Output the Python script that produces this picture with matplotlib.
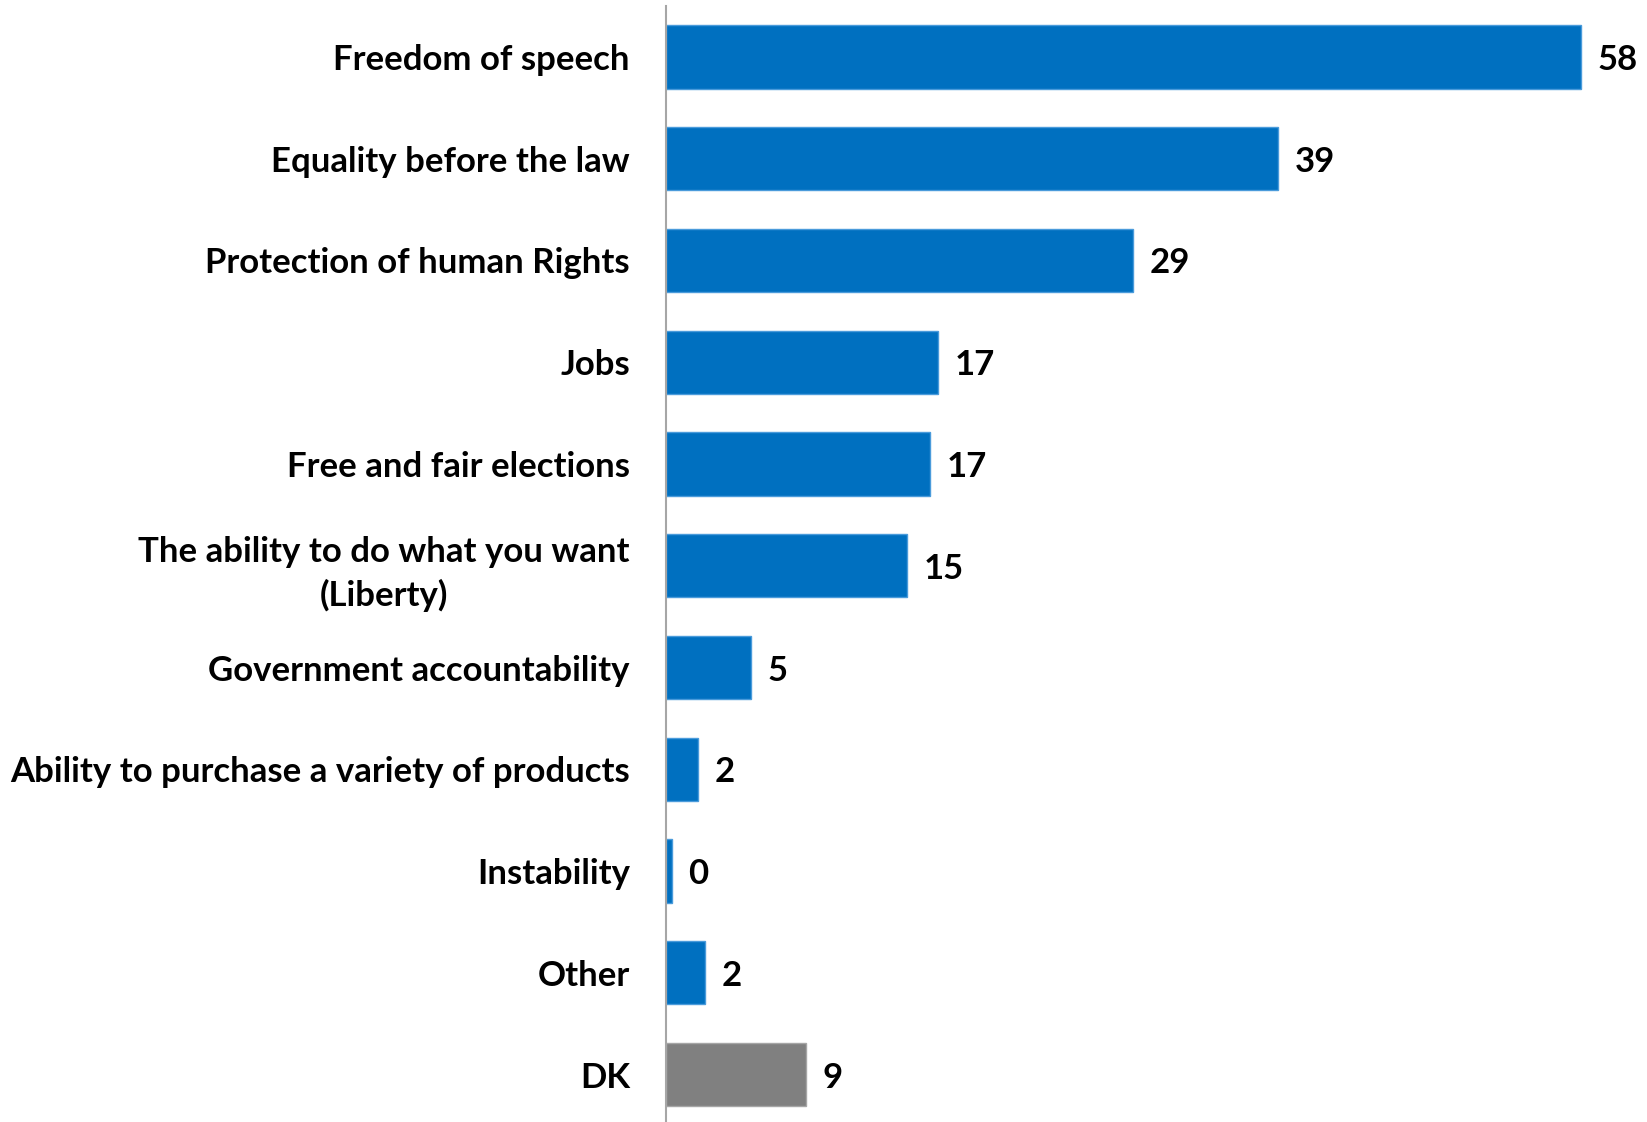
import numpy as np
import matplotlib
matplotlib.use("Agg")
import matplotlib.pyplot as plt

# data (bar lengths slightly unrounded, labels as printed)
categories = ["Freedom of speech", "Equality before the law", "Protection of human Rights",
              "Jobs", "Free and fair elections", "The ability to do what you want\n(Liberty)",
              "Government accountability", "Ability to purchase a variety of products",
              "Instability", "Other", "DK"]
values = [58.0, 38.8, 29.6, 17.24, 16.73, 15.27, 5.39, 2.06, 0.38, 2.47, 8.87]
value_labels = ["58", "39", "29", "17", "17", "15", "5", "2", "0", "2", "9"]
colors = ["#0070C0"] * 10 + ["#808080"]
edges = ["#4A9BDB"] * 10 + ["#A6A6A6"]

plt.rcParams['font.family'] = ['Lato', 'DejaVu Sans']

fig = plt.figure(figsize=(16.47, 11.22), dpi=100)
ax = fig.add_axes([666/1647, -3.4/1122, 978/1647, 1119.3/1122])

y = np.arange(len(categories))
ax.barh(y, values, height=0.62, color=colors, edgecolor=edges, linewidth=1)
ax.set_xlim(0, 62)
ax.set_ylim(len(categories) - 0.5, -0.5)

ax.set_yticks(y)
ax.set_yticklabels(categories, fontsize=25, fontweight='bold')
for t in ax.get_yticklabels():
    t.set_multialignment('center')
    t.set_linespacing(1.4)
    t.set_verticalalignment('center_baseline')
ax.tick_params(axis='y', length=0, pad=26)
ax.set_xticks([])

for s in ['top', 'right', 'bottom']:
    ax.spines[s].set_visible(False)
ax.spines['left'].set_color('#A6A6A6')
ax.spines['left'].set_linewidth(1.5)

for yi, v, lab in zip(y, values, value_labels):
    ax.text(v + 1.05, yi, lab, va='center_baseline', ha='left', fontsize=25, fontweight='bold')

plt.savefig('out.png', dpi=100)
